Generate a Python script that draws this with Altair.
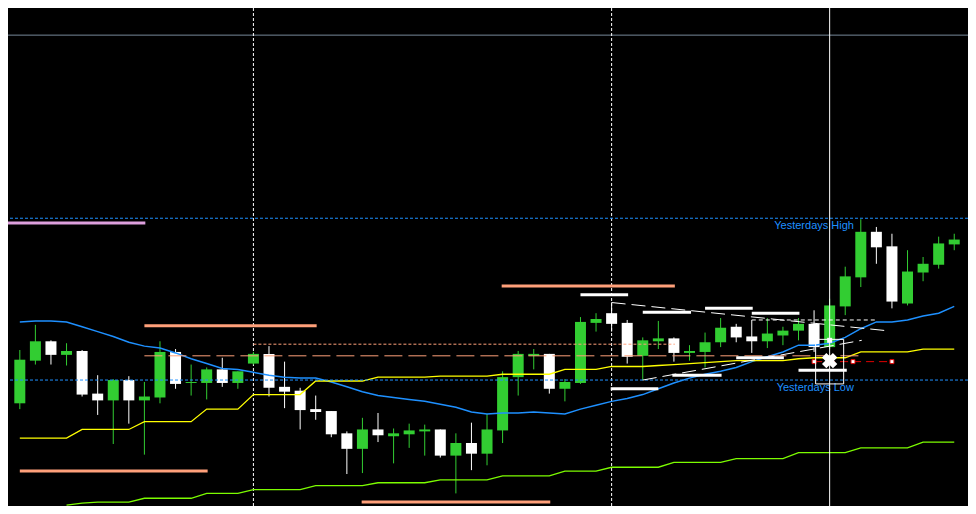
import altair as alt
import pandas as pd

# ---------------- candles (61 bars, index 0..60) ----------------
open_ = [1.1106, 1.1150, 1.1170, 1.1156, 1.1160, 1.1116, 1.1109, 1.1130, 1.1109, 1.1112,
         1.1159, 1.1127, 1.1127, 1.1141, 1.1127, 1.1147, 1.1157, 1.1123, 1.1119, 1.1100,
         1.1098, 1.1075, 1.1059, 1.1079, 1.1072, 1.1074, 1.1077, 1.1079, 1.1052, 1.1065,
         1.1054, 1.1078, 1.1133, 1.1155, 1.1157, 1.1121, 1.1127, 1.1189, 1.1199, 1.1189,
         1.1155, 1.1170, 1.1173, 1.1158, 1.1159, 1.1169, 1.1185, 1.1175, 1.1170, 1.1176,
         1.1181, 1.1188, 1.1164, 1.1206, 1.1236, 1.1283, 1.1268, 1.1209, 1.1241, 1.1249,
         1.1270]
high = [1.1161, 1.1187, 1.1171, 1.1168, 1.1161, 1.1135, 1.1131, 1.1134, 1.1128, 1.1170,
        1.1162, 1.1146, 1.1143, 1.1153, 1.1139, 1.1159, 1.1165, 1.1149, 1.1122, 1.1114,
        1.1098, 1.1077, 1.1091, 1.1096, 1.1080, 1.1085, 1.1084, 1.1079, 1.1075, 1.1086,
        1.1095, 1.1139, 1.1160, 1.1162, 1.1157, 1.1131, 1.1195, 1.1199, 1.1210, 1.1192,
        1.1174, 1.1191, 1.1174, 1.1166, 1.1179, 1.1194, 1.1188, 1.1192, 1.1194, 1.1185,
        1.1194, 1.1202, 1.1214, 1.1247, 1.1296, 1.1288, 1.1281, 1.1264, 1.1257, 1.1278,
        1.1281]
low = [1.1100, 1.1146, 1.1146, 1.1145, 1.1113, 1.1094, 1.1064, 1.1085, 1.1053, 1.1106,
       1.1121, 1.1114, 1.1110, 1.1123, 1.1121, 1.1146, 1.1113, 1.1101, 1.1079, 1.1089,
       1.1071, 1.1033, 1.1034, 1.1066, 1.1044, 1.1060, 1.1052, 1.1050, 1.1013, 1.1037,
       1.1042, 1.1065, 1.1114, 1.1141, 1.1116, 1.1108, 1.1126, 1.1180, 1.1180, 1.1147,
       1.1130, 1.1162, 1.1149, 1.1150, 1.1143, 1.1164, 1.1169, 1.1158, 1.1163, 1.1166,
       1.1171, 1.1159, 1.1162, 1.1197, 1.1226, 1.1250, 1.1204, 1.1207, 1.1232, 1.1245,
       1.1264]
close = [1.1151, 1.1170, 1.1156, 1.1160, 1.1115, 1.1109, 1.1130, 1.1109, 1.1113, 1.1159,
         1.1126, 1.1128, 1.1141, 1.1127, 1.1139, 1.1157, 1.1122, 1.1118, 1.1099, 1.1097,
         1.1074, 1.1059, 1.1079, 1.1073, 1.1075, 1.1078, 1.1079, 1.1052, 1.1065, 1.1054,
         1.1079, 1.1133, 1.1157, 1.1157, 1.1121, 1.1128, 1.1190, 1.1193, 1.1188, 1.1154,
         1.1171, 1.1173, 1.1158, 1.1160, 1.1169, 1.1184, 1.1174, 1.1170, 1.1178, 1.1181,
         1.1188, 1.1164, 1.1207, 1.1237, 1.1283, 1.1267, 1.1211, 1.1242, 1.1250, 1.1271,
         1.1275]

# ---------------- indicators ----------------
ma_blue = [1.1190, 1.1191, 1.1191, 1.1190, 1.1185, 1.1180, 1.1175, 1.1169, 1.1165, 1.1163,
           1.1158, 1.1152, 1.1147, 1.1142, 1.1141, 1.1138, 1.1135, 1.1133, 1.1132, 1.1132,
           1.1128, 1.1123, 1.1118, 1.1114, 1.1112, 1.1110, 1.1108, 1.1105, 1.1102, 1.1097,
           1.1095, 1.1096, 1.1096, 1.1097, 1.1096, 1.1095, 1.1100, 1.1104, 1.1108, 1.1111,
           1.1115, 1.1121, 1.1127, 1.1132, 1.1136, 1.1139, 1.1143, 1.1149, 1.1154, 1.1159,
           1.1166, 1.1166, 1.1168, 1.1174, 1.1183, 1.1190, 1.1190, 1.1192, 1.1196, 1.1199,
           1.1206]
env_upper = [1.1070, 1.1070, 1.1070, 1.1070, 1.1079, 1.1079, 1.1079, 1.1079, 1.1087, 1.1087,
             1.1087, 1.1087, 1.1100, 1.1100, 1.1100, 1.1115, 1.1115, 1.1115, 1.1115, 1.1129,
             1.1129, 1.1129, 1.1129, 1.1133, 1.1133, 1.1133, 1.1133, 1.1134, 1.1134, 1.1134,
             1.1134, 1.1136, 1.1136, 1.1136, 1.1136, 1.1141, 1.1141, 1.1141, 1.1144, 1.1144,
             1.1144, 1.1145, 1.1146, 1.1147, 1.1148, 1.1149, 1.1150, 1.1150, 1.1150, 1.1150,
             1.1152, 1.1153, 1.1153, 1.1153, 1.1159, 1.1159, 1.1159, 1.1159, 1.1162, 1.1162,
             1.1162]
env_lower_first_bar = 3
env_lower = [1.1001, 1.1003, 1.1004, 1.1004, 1.1004, 1.1008, 1.1008, 1.1008, 1.1008,
             1.1013, 1.1013, 1.1013, 1.1017, 1.1017, 1.1017, 1.1017, 1.1021, 1.1021,
             1.1021, 1.1021, 1.1024, 1.1024, 1.1024, 1.1024, 1.1027, 1.1027, 1.1027,
             1.1027, 1.1031, 1.1031, 1.1031, 1.1031, 1.1036, 1.1036, 1.1036, 1.1040,
             1.1040, 1.1040, 1.1040, 1.1045, 1.1045, 1.1045, 1.1045, 1.1049, 1.1049,
             1.1049, 1.1049, 1.1055, 1.1055, 1.1055, 1.1055, 1.1060, 1.1060, 1.1060,
             1.1060, 1.1066, 1.1066, 1.1066]

# ---------------- levels ----------------
weekly_price = [1.1292]
weekly_from = [-1]
weekly_to = [8.06]
pivot_price = [1.1186, 1.1036, 1.1004, 1.1227]
pivot_from = [8, 0, 21.95, 30.94]
pivot_to = [19.06, 12.06, 34.06, 42.06]

dash_price = [1.1155]          # long-dashed pivot
dash_from = [8]
dash_to = [54]
dot_price = [1.1167]           # dotted pivot
dot_from = [15]
dot_to = [42.06]

yest_price = [1.1297, 1.1130]
yest_label = ["Yesterdays High", "Yesterdays Low"]
yest_label_bar = 53.56
top_line_price = 1.1486

separators = [15, 38]
tick_bars = [3, 7, 11, 15, 19, 23, 27, 31, 35, 39, 43, 47, 51, 55, 59]
crosshair_bar = 52

# order lines (white)
seg_from = [36, 40, 44, 47, 37.94, 41.9, 46, 50]
seg_to = [39.06, 43.1, 47.06, 50.06, 41, 45.06, 49.06, 53.1]
seg_price = [1.1218, 1.1200, 1.1204, 1.1199, 1.1121, 1.1135, 1.1153, 1.1140]

trend_from_bar = [38, 40]
trend_from_price = [1.1210, 1.1130]
trend_to_bar = [55.63, 54.06]
trend_to_price = [1.1181, 1.1171]

white_dash_price = [1.1192]
white_dash_from = [47]
white_dash_to = [55]

box_from_bar, box_to_bar = 51.1, 52.9
box_low, box_high = 1.1126, 1.1172
handle_bar, handle_price = 52, 1.1171
x_bar, x_price = 52, 1.1150
red_price = 1.1149
red_nodes = [51, 53.5, 56]

# ---------------- chart ----------------
xs = alt.Scale(domain=[-0.4375, 60.5625], nice=False, zero=False)
ys = alt.Scale(domain=[1.1000, 1.1514], nice=False, zero=False)


def bx(f):
    return alt.X(f + ":Q", scale=xs, axis=None)


def by(f):
    return alt.Y(f + ":Q", scale=ys, axis=None)


n = len(open_)
cdf = pd.DataFrame({
    "bar": list(range(n)), "open": open_, "high": high, "low": low, "close": close,
    "ma": ma_blue, "upper": env_upper,
})
is_up = [c > o for o, c in zip(open_, close)]
up_df = cdf[is_up]
dn_df = cdf[[not u for u in is_up]]
ldf = pd.DataFrame({"bar": list(range(env_lower_first_bar, env_lower_first_bar + len(env_lower))),
                    "lower": env_lower})

UP, DOWN = "#32CD32", "#FFFFFF"

top_line = alt.Chart(pd.DataFrame({"p": [top_line_price]})).mark_rule(
    color="#778899", strokeWidth=1).encode(y=by("p"))

seps = alt.Chart(pd.DataFrame({"bar": separators})).mark_rule(
    color="white", strokeWidth=1, strokeDash=[3, 2]).encode(
    x=alt.X("bar:Q", scale=xs,
            axis=alt.Axis(values=tick_bars, labels=False, domain=False, grid=False,
                          ticks=True, tickColor="white", tickWidth=1, tickSize=4,
                          offset=-4, title=None)))


def hseg(price, a, b, color, width, dash=None):
    kw = dict(color=color, strokeWidth=width, clip=True)
    if dash:
        kw["strokeDash"] = dash
    return alt.Chart(pd.DataFrame({"p": price, "a": a, "b": b})).mark_rule(**kw).encode(
        x=bx("a"), x2=alt.X2("b:Q"), y=by("p"))


weekly = hseg(weekly_price, weekly_from, weekly_to, "#DDA0DD", 3)
pivots = hseg(pivot_price, pivot_from, pivot_to, "#FFA07A", 3)

wick_up = alt.Chart(up_df).mark_rule(strokeWidth=1, color=UP).encode(
    x=bx("bar"), y=by("low"), y2=alt.Y2("high:Q"))
wick_dn = alt.Chart(dn_df).mark_rule(strokeWidth=1, color=DOWN).encode(
    x=bx("bar"), y=by("low"), y2=alt.Y2("high:Q"))
body_up = alt.Chart(up_df).mark_bar(size=11, color=UP).encode(
    x=bx("bar"), y=by("open"), y2=alt.Y2("close:Q"))
body_dn = alt.Chart(dn_df).mark_bar(size=11, color=DOWN).encode(
    x=bx("bar"), y=by("open"), y2=alt.Y2("close:Q"))

ma_line = alt.Chart(cdf).mark_line(color="#1E90FF", strokeWidth=1.5).encode(x=bx("bar"), y=by("ma"))
up_line = alt.Chart(cdf).mark_line(color="#FFFF00", strokeWidth=1.3).encode(x=bx("bar"), y=by("upper"))
lo_line = alt.Chart(ldf).mark_line(color="#7CFC00", strokeWidth=1.3).encode(x=bx("bar"), y=by("lower"))

dash_lvl = hseg(dash_price, dash_from, dash_to, "#FFA07A", 1, [18, 6])
dot_lvl = hseg(dot_price, dot_from, dot_to, "#FFA07A", 1, [3, 2])

ydf = pd.DataFrame({"p": yest_price, "label": yest_label, "lb": [yest_label_bar] * 2})
yest_rules = alt.Chart(ydf).mark_rule(color="#1E90FF", strokeWidth=1, strokeDash=[3, 2]).encode(y=by("p"))
yest_text = alt.Chart(ydf).mark_text(align="right", baseline="top", dy=2, font="Liberation Sans",
                                     fontSize=11, color="#1E90FF").encode(
    x=bx("lb"), y=by("p"), text="label:N")

segs = hseg(seg_price, seg_from, seg_to, "white", 3)

trends = alt.Chart(pd.DataFrame({"a": trend_from_bar, "pa": trend_from_price,
                                 "b": trend_to_bar, "pb": trend_to_price})).mark_rule(
    color="white", strokeWidth=1, strokeDash=[14, 6]).encode(
    x=bx("a"), y=by("pa"), x2=alt.X2("b:Q"), y2=alt.Y2("pb:Q"))

white_dash = hseg(white_dash_price, white_dash_from, white_dash_to, "white", 1, [4, 3])

cross_v = alt.Chart(pd.DataFrame({"bar": [crosshair_bar]})).mark_rule(
    color="white", strokeWidth=1).encode(x=bx("bar"))

box = alt.Chart(pd.DataFrame({"a": [box_from_bar], "b": [box_to_bar], "lo": [box_low], "hi": [box_high]})).mark_rect(
    fillOpacity=0, stroke="white", strokeWidth=1).encode(
    x=bx("a"), x2=alt.X2("b:Q"), y=by("lo"), y2=alt.Y2("hi:Q"))

handle = alt.Chart(pd.DataFrame({"bar": [handle_bar], "p": [handle_price]})).mark_square(
    size=25, filled=True, color="white", opacity=1).encode(x=bx("bar"), y=by("p"))

red_line = hseg([red_price], [min(red_nodes)], [max(red_nodes)], "#E00000", 1, [8, 5])
red_sq = alt.Chart(pd.DataFrame({"bar": red_nodes, "p": [red_price] * len(red_nodes)})).mark_square(
    size=16, filled=True, fill="white", stroke="#E00000", strokeWidth=1, opacity=1).encode(
    x=bx("bar"), y=by("p"))

xmark = alt.Chart(pd.DataFrame({"bar": [x_bar], "p": [x_price]})).mark_point(
    shape="cross", angle=45, filled=True, size=240, color="white", opacity=1).encode(
    x=bx("bar"), y=by("p"))

chart = alt.layer(
    top_line, seps, weekly, pivots, wick_up, wick_dn, body_up, body_dn,
    ma_line, up_line, lo_line, dash_lvl, dot_lvl, yest_rules, yest_text,
    segs, trends, white_dash, red_line, red_sq, cross_v, box, handle, xmark,
).properties(
    width=960, height=498, background="black", padding=0,
    autosize=alt.AutoSizeParams(type="none"),
).configure_view(strokeWidth=0, fill="black")

chart.save("out.html", embed_options={"renderer": "svg", "actions": False})
